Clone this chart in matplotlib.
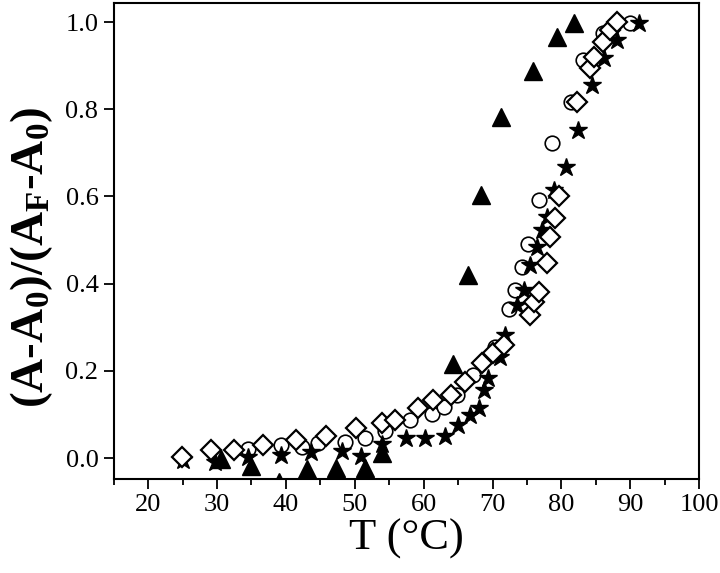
import matplotlib
matplotlib.use("Agg")
import matplotlib.pyplot as plt
from matplotlib.ticker import MultipleLocator

plt.rcParams['font.family'] = ['Liberation Serif', 'DejaVu Serif']
plt.rcParams['mathtext.fontset'] = 'custom'
plt.rcParams['mathtext.rm'] = 'Liberation Serif:bold'
plt.rcParams['mathtext.it'] = 'Liberation Serif:italic:bold'
plt.rcParams['mathtext.default'] = 'rm'

# filled triangles
tri_T = [30.6, 35.0, 39.0, 43.0, 47.3, 51.5, 54.0, 64.3, 66.5, 68.3, 71.3, 75.9, 79.4, 81.8]
tri_y = [-0.003, -0.018, -0.055, -0.024, -0.023, -0.023, 0.011, 0.215, 0.42, 0.603, 0.783, 0.888, 0.965, 0.998]

# open circles
cir_T = [34.5, 39.3, 42.3, 44.7, 48.6, 51.5, 54.4, 58.0, 61.2, 62.9, 64.8, 67.2, 70.3,
         72.4, 73.3, 74.3, 75.1, 76.7, 78.6, 81.4, 83.2, 86.1, 89.9]
cir_y = [0.022, 0.031, 0.026, 0.034, 0.037, 0.047, 0.063, 0.087, 0.102, 0.118, 0.144, 0.19, 0.255,
         0.341, 0.385, 0.439, 0.492, 0.592, 0.722, 0.817, 0.913, 0.974, 0.997]

# filled stars
star_T = [25.0, 29.7, 34.5, 39.3, 43.7, 48.2, 50.9, 53.9, 57.5, 60.2, 63.1, 65.0, 66.7, 68.0,
          68.7, 69.4, 71.1, 71.8, 73.5, 74.5, 75.5, 76.4, 77.2, 77.9, 78.9, 80.6, 82.4,
          84.4, 86.2, 88.1, 91.2]
star_y = [-0.005, -0.008, 0.003, 0.008, 0.014, 0.016, 0.005, 0.032, 0.045, 0.047, 0.051, 0.076,
          0.099, 0.114, 0.156, 0.183, 0.232, 0.282, 0.351, 0.385, 0.443, 0.485, 0.523, 0.553,
          0.615, 0.668, 0.752, 0.855, 0.917, 0.959, 0.997]

# open diamonds
dia_T = [24.9, 29.1, 32.5, 36.7, 41.4, 45.8, 50.2, 53.9, 55.9, 59.2, 61.4, 63.9, 66.0, 68.4,
         70.1, 71.6, 75.5, 76.0, 76.7, 77.9, 78.4, 79.1, 79.6, 82.3, 84.2, 84.7, 86.1, 87.1, 88.1]
dia_y = [0.002, 0.018, 0.018, 0.03, 0.041, 0.051, 0.068, 0.08, 0.087, 0.114, 0.133, 0.144, 0.175,
         0.217, 0.24, 0.259, 0.328, 0.358, 0.381, 0.447, 0.508, 0.55, 0.6, 0.817, 0.894, 0.92,
         0.955, 0.982, 1.0]

fig = plt.figure(figsize=(7.2, 5.73), dpi=100)
ax = fig.add_axes([0.158, 0.164, 0.813, 0.831])

ax.plot(tri_T, tri_y, linestyle='none', marker='^', ms=13.5, mfc='black', mec='black', zorder=2)
ax.plot(cir_T, cir_y, linestyle='none', marker='o', ms=10.5, mfc='white', mec='black', mew=1.2, zorder=3)
ax.plot(star_T, star_y, linestyle='none', marker='*', ms=13.5, mfc='black', mec='black', zorder=4)
ax.plot(dia_T, dia_y, linestyle='none', marker='D', ms=10.5, mfc='white', mec='black', mew=1.6, zorder=5)

ax.set_xlim(15, 100)
ax.set_ylim(-0.048, 1.044)
ax.xaxis.set_major_locator(MultipleLocator(10))
ax.xaxis.set_minor_locator(MultipleLocator(5))
ax.yaxis.set_major_locator(MultipleLocator(0.2))
ax.yaxis.set_major_formatter(matplotlib.ticker.FormatStrFormatter('%.1f'))

for s in ax.spines.values():
    s.set_linewidth(1.5)
ax.tick_params(axis='both', which='major', direction='out', length=7, width=1.3, labelsize=19, pad=4)
ax.tick_params(axis='x', which='minor', direction='out', length=4, width=1.3)
ax.tick_params(top=False, right=False)

ax.set_xlabel('T (°C)', fontsize=32, labelpad=2)
ax.set_ylabel(r'(A-A$_0$)/(A$_\mathrm{F}$-A$_0$)', fontsize=34, fontweight='bold')
ax.yaxis.set_label_coords(-0.100, 0.465)

fig.savefig('out.png', dpi=100)
